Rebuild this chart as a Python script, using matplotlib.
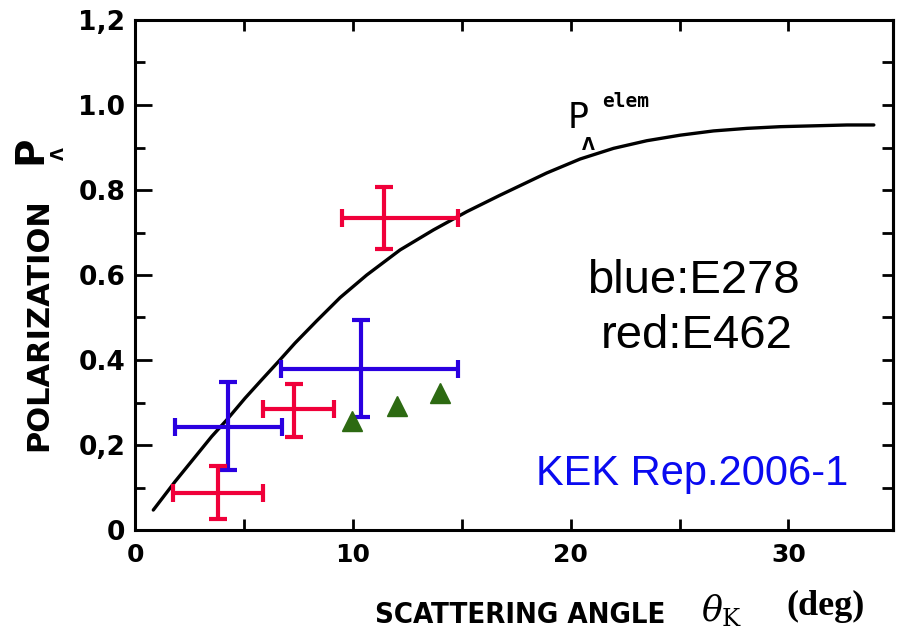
import matplotlib
matplotlib.use("Agg")
import matplotlib.pyplot as plt
from matplotlib.ticker import MultipleLocator, FixedLocator

W, H = 897, 633

# theoretical curve P_Lambda^elem
curve_x = [0.84, 1.84, 2.76, 3.52, 4.21, 5.05, 5.81, 6.58, 7.35, 8.34, 9.42,
           10.64, 12.17, 13.70, 15.23, 16.77, 18.9, 20.44, 21.97, 23.5, 25.03,
           26.56, 28.09, 29.63, 31.16, 32.69, 33.92]
curve_y = [0.047, 0.114, 0.172, 0.220, 0.259, 0.310, 0.353, 0.396, 0.440,
           0.492, 0.547, 0.600, 0.659, 0.706, 0.749, 0.788, 0.840, 0.873,
           0.898, 0.916, 0.929, 0.939, 0.945, 0.949, 0.951, 0.953, 0.953]

# E278 (blue)
blue_x = [4.27, 10.38]
blue_y = [0.243, 0.380]
blue_xlo = [2.43, 3.67]
blue_xhi = [2.47, 4.47]
blue_ylo = [0.102, 0.113]
blue_yhi = [0.106, 0.114]

# E462 (red)
red_x = [3.81, 7.30, 11.41]
red_y = [0.088, 0.284, 0.733]
red_xlo = [2.06, 1.42, 1.92]
red_xhi = [2.07, 1.84, 3.44]
red_ylo = [0.062, 0.065, 0.072]
red_yhi = [0.063, 0.060, 0.075]

# green triangles
tri_x = [9.95, 12.02, 14.0]
tri_y = [0.256, 0.292, 0.322]

yticks = [0, 0.2, 0.4, 0.6, 0.8, 1.0, 1.2]
yticklabels = ["0", "0,2", "0.4", "0.6", "0.8", "1.0", "1,2"]
xticks = [0, 10, 20, 30]

fig = plt.figure(figsize=(W / 100, H / 100), dpi=100)
ax = fig.add_axes([135 / W, 1 - 530 / H, 758 / W, 510 / H])

ax.plot(curve_x, curve_y, color="black", lw=2.4, solid_capstyle="round",
        solid_joinstyle="round")

ax.errorbar(blue_x, blue_y, xerr=[blue_xlo, blue_xhi], yerr=[blue_ylo, blue_yhi],
            fmt="none", ecolor="#2a00e0", elinewidth=3, capsize=6.5, capthick=3)
ax.errorbar(red_x, red_y, xerr=[red_xlo, red_xhi], yerr=[red_ylo, red_yhi],
            fmt="none", ecolor="#f0003a", elinewidth=3, capsize=6.5, capthick=3)
ax.plot(tri_x, tri_y, "^", color="#2d6a12", ms=14, mec="#2d6a12")

ax.set_xlim(0, 34.8)
ax.set_ylim(0, 1.2)

for s in ax.spines.values():
    s.set_linewidth(2.2)

ax.xaxis.set_major_locator(FixedLocator(xticks))
ax.xaxis.set_minor_locator(MultipleLocator(5))
ax.set_yticks(yticks)
ax.set_yticklabels(yticklabels)
ax.yaxis.set_minor_locator(MultipleLocator(0.1))

ax.tick_params(axis="x", which="both", direction="in", top=True, length=8,
               width=2, pad=9, labelsize=18)
ax.tick_params(axis="y", which="major", direction="in", length=12, width=2,
               pad=7, labelsize=19)
ax.tick_params(axis="y", which="minor", direction="in", length=7, width=2)
for lab in ax.get_xticklabels() + ax.get_yticklabels():
    lab.set_fontweight("bold")

# right-hand ticks (all the same length)
sec = ax.secondary_yaxis("right")
sec.yaxis.set_major_locator(MultipleLocator(0.1))
sec.tick_params(direction="in", length=8, width=2, labelright=False)
sec.spines["right"].set_linewidth(2.2)

# curve label
ax.text(19.85, 0.945, "P", fontsize=25, ha="left", va="baseline")
ax.text(20.5, 0.893, "\u039b", fontsize=12, fontweight="bold", ha="left",
        va="baseline")
ax.text(21.45, 0.995, "elem", fontsize=14, family="DejaVu Sans Mono",
        fontweight="bold", ha="left", va="baseline")

# annotations
sans = ["Liberation Sans", "DejaVu Sans"]
fig.text(693 / W, 1 - 293 / H, "blue:E278", family=sans, fontsize=34,
         ha="center", va="baseline")
fig.text(697 / W, 1 - 348 / H, "red:E462", family=sans, fontsize=34,
         ha="center", va="baseline")
fig.text(692 / W, 1 - 485 / H, "KEK Rep.2006-1", family=sans, fontsize=30,
         color="#0a0af0", ha="center", va="baseline")

# x axis label
fig.text(520 / W, 1 - 623 / H, "SCATTERING ANGLE", fontsize=21,
         fontweight="bold", fontstretch="condensed", ha="center",
         va="baseline")
fig.text(701 / W, 1 - 621 / H, r"$\theta_{\mathrm{K}}$", fontsize=25,
         math_fontfamily="dejavuserif", ha="left", va="baseline")
fig.text(786 / W, 1 - 615 / H, "(deg)", family=["Liberation Serif", "DejaVu Serif"],
         fontsize=26, fontweight="bold", ha="left", va="baseline")

# y axis label
fig.text(53 / W, 1 - 325 / H, "POLARIZATION", fontsize=22, fontweight="bold",
         rotation=90, ha="right", va="center")
fig.text(49 / W, 1 - 150 / H, "P", fontsize=28, fontweight="bold",
         rotation=90, ha="right", va="center")
fig.text(68 / W, 1 - 154 / H, "\u039b", fontsize=12, fontweight="bold",
         rotation=90, ha="right", va="center")

fig.savefig("out.png", dpi=100)
